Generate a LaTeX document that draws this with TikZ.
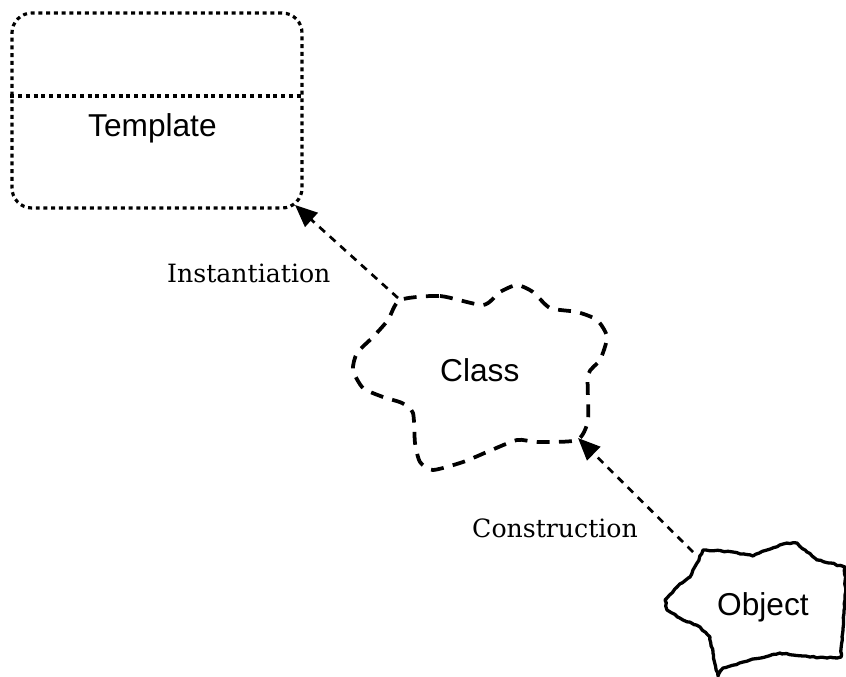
\documentclass[tikz,border=0pt]{standalone}
\usepackage{fontspec}
\setmainfont{Liberation Sans}
\newfontfamily\labelfont{DejaVu Serif}
\usetikzlibrary{arrows.meta,decorations.pathmorphing}
\begin{document}
\begin{tikzpicture}[x=0.03cm,y=-0.03cm,
  boxtext/.style={font=\fontsize{27pt}{30pt}\selectfont, inner sep=0pt},
  edgelabel/.style={font=\labelfont\fontsize{21.5pt}{24pt}\selectfont, inner sep=0pt},
  tmplbox/.style={draw, line width=2.7pt, dash pattern=on 3.4pt off 3.2pt, rounded corners=17pt,
     minimum width=8.7cm, minimum height=5.85cm, inner sep=0pt},
  classline/.style={line width=3.2pt, dash pattern=on 11pt off 8pt},
  objline/.style={line width=2.8pt, line join=round, decorate,
     decoration={random steps, segment length=3pt, amplitude=0.6pt}},
  conn/.style={line width=2.3pt, dash pattern=on 6.5pt off 5.5pt,
     -{Triangle[length=19pt,width=16pt]}}
]
\useasboundingbox (0,0) rectangle (846,676);

% Template
\node[tmplbox] (tmpl) at (157,110.5) {};
\draw[line width=2.7pt, dash pattern=on 3.4pt off 3.2pt] (tmpl.west |- 0,96) -- (tmpl.east |- 0,96);
\node[boxtext, anchor=base west] (tmpltext) at (88,137) {Template};

% Class
\draw[classline] plot[smooth cycle, tension=0.4] coordinates {
 (400,300) (440,296) (483,305) (500,292) (517,285) (533,292) (550,308)
 (577,312) (597,320) (607,337) (600,360) (588,375) (588,420) (577,440)
 (537,442) (517,440) (487,452) (463,462) (433,470) (420,462) (415,443)
 (413,413) (402,403) (383,397) (363,388) (353,370) (357,353) (373,337) (388,320)};
\node[boxtext, anchor=base west] (classtext) at (440,381) {Class};

% Object
\pgfmathsetseed{7}
\draw[objline] (703,550) -- (733,552) -- (753,556) -- (767,550) -- (783,544) -- (797,543)
 -- (807,552) -- (817,560) -- (830,563) -- (845,567) -- (845,600) -- (843,630) -- (841,657)
 -- (827,658) -- (810,657) -- (793,655) -- (780,653) -- (750,660) -- (723,668) -- (718,676)
 -- (713,653) -- (710,637) -- (700,627) -- (683,620) -- (667,610) -- (665,600) -- (677,587)
 -- (690,577) -- (697,563) -- cycle;
\node[boxtext, anchor=base west] (objtext) at (717,615) {Object};

% connector end points
\coordinate (classNW) at (398,298);
\coordinate (classSE) at (578,438);
\coordinate (tmplSE) at (295,205);
\coordinate (objNW) at (693,552);

\draw[conn] (classNW) -- (tmplSE);
\draw[conn] (objNW) -- (classSE);

\node[edgelabel, anchor=base west] (inst) at (167,282) {Instantiation};
\node[edgelabel, anchor=base west] (cons) at (472,537) {Construction};
\end{tikzpicture}
\end{document}
